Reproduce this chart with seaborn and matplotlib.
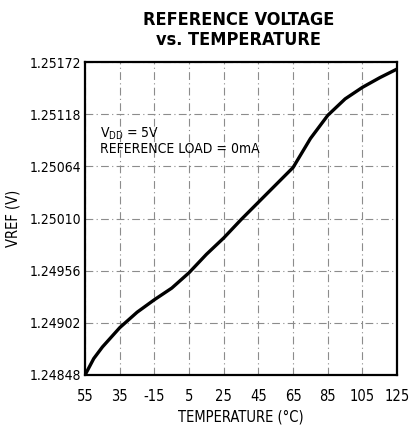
import matplotlib
matplotlib.use("Agg")
import matplotlib.pyplot as plt
import seaborn as sns
import pandas as pd

# Valeurs
temperature = [-55, -50, -45, -35, -25, -15, -5, 5, 15, 25, 35, 45, 55, 65,
               75, 85, 95, 105, 115, 125]
vref = [1.24848, 1.24865, 1.24877, 1.24897, 1.24913, 1.24926, 1.24938, 1.24954,
        1.24973, 1.24990, 1.25009, 1.25027, 1.25045, 1.25063,
        1.25093, 1.25117, 1.25134, 1.25146, 1.25156, 1.25165]

x_ticks = [-55, -35, -15, 5, 25, 45, 65, 85, 105, 125]
x_labels = ["55", "35", "-15", "5", "25", "45", "65", "85", "105", "125"]
y_ticks = [1.24848, 1.24902, 1.24956, 1.25010, 1.25064, 1.25118, 1.25172]
y_labels = ["1.24848", "1.24902", "1.24956", "1.25010", "1.25064", "1.25118", "1.25172"]

data = pd.DataFrame({"temperature": temperature, "vref": vref})

sns.set_style("white")
plt.rcParams["font.family"] = ["DejaVu Sans"]
plt.rcParams["font.stretch"] = "condensed"
plt.rcParams["text.color"] = "black"
plt.rcParams["axes.labelcolor"] = "black"
plt.rcParams["xtick.color"] = "black"
plt.rcParams["ytick.color"] = "black"

fig = plt.figure(figsize=(4.15, 4.32), dpi=100)
ax = fig.add_axes([0.205, 0.132, 0.752, 0.724])

sns.lineplot(data=data, x="temperature", y="vref", color="black", linewidth=2.4, ax=ax)

ax.set_xlim(-55, 125)
ax.set_ylim(1.24848, 1.25172)
ax.set_xticks(x_ticks)
ax.set_xticklabels(x_labels, fontsize=10.5)
ax.set_yticks(y_ticks)
ax.set_yticklabels(y_labels, fontsize=10)
ax.tick_params(axis="x", length=0, pad=10)
ax.tick_params(axis="y", length=0, pad=3)

ax.grid(True, color="0.55", linewidth=0.8, linestyle=(0, (7, 3, 1, 3)))
for s in ax.spines.values():
    s.set_color("black")
    s.set_linewidth(1.6)

ax.set_xlabel("TEMPERATURE (°C)", fontsize=10.5, labelpad=4)
ax.set_ylabel("VREF (V)", fontsize=10.5, labelpad=6)

ax.text(-46.5, 1.25094, "V$_{\\mathregular{DD}}$ = 5V", fontsize=10, va="baseline")
ax.text(-46.5, 1.25078, "REFERENCE LOAD = 0mA", fontsize=10, va="baseline")

fig.text(0.575, 0.975, "REFERENCE VOLTAGE\nvs. TEMPERATURE", ha="center", va="top",
         fontsize=13, fontweight="bold", linespacing=1.15)

fig.savefig("out.png", dpi=100)
